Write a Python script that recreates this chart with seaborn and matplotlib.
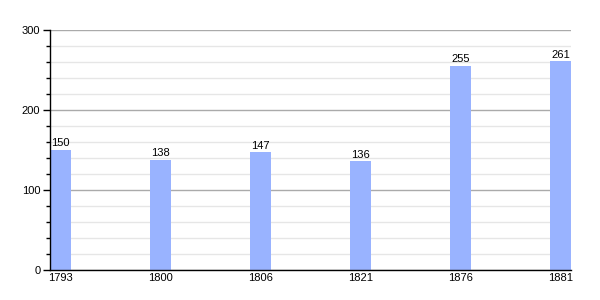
import matplotlib
matplotlib.use("Agg")
import matplotlib.pyplot as plt
import seaborn as sns
import pandas as pd
from matplotlib.ticker import MultipleLocator

years = ["1793", "1800", "1806", "1821", "1876", "1881"]
population = [150, 138, 147, 136, 255, 261]

df = pd.DataFrame({"year": years, "pop": population})

sns.set_style("white")
plt.rcParams['font.family'] = ['Liberation Sans', 'DejaVu Sans']
plt.rcParams['text.color'] = 'black'
plt.rcParams['xtick.color'] = 'black'
plt.rcParams['ytick.color'] = 'black'

fig = plt.figure(figsize=(6, 3), dpi=100)
ax = fig.add_axes([50/600, 30/300, 521/600, 240/300])

w = 0.21
sns.barplot(data=df, x="year", y="pop", color="#99B3FF", saturation=1,
            width=w, ax=ax, zorder=3, linewidth=0, edgecolor="none")

ax.set_xlim(-w/2, len(years) - 1 + w/2)
ax.set_ylim(0, 300)
ax.yaxis.set_major_locator(MultipleLocator(100))
ax.yaxis.set_minor_locator(MultipleLocator(20))
ax.grid(axis="y", which="major", color="#AAAAAA", linewidth=1, zorder=0)
ax.grid(axis="y", which="minor", color="#E6E6E6", linewidth=1, zorder=0)
ax.set_axisbelow(True)

for s in ["top", "right"]:
    ax.spines[s].set_visible(False)
for s in ["left", "bottom"]:
    ax.spines[s].set_color("black")
    ax.spines[s].set_linewidth(1)
    ax.spines[s].set_zorder(4)

ax.tick_params(axis="y", which="major", direction="out", length=5, width=1,
               color="black", labelcolor="black", labelsize=8, pad=2, left=True)
ax.tick_params(axis="y", which="minor", direction="out", length=3, width=1,
               color="black", left=True)
ax.tick_params(axis="x", which="both", length=0, labelsize=8, pad=2,
               labelcolor="black")

for i, v in enumerate(population):
    ax.text(i, v + 2, str(v), ha="center", va="bottom", fontsize=8,
            color="black")

ax.set_xlabel("")
ax.set_ylabel("")

fig.savefig("out.png", dpi=100)
